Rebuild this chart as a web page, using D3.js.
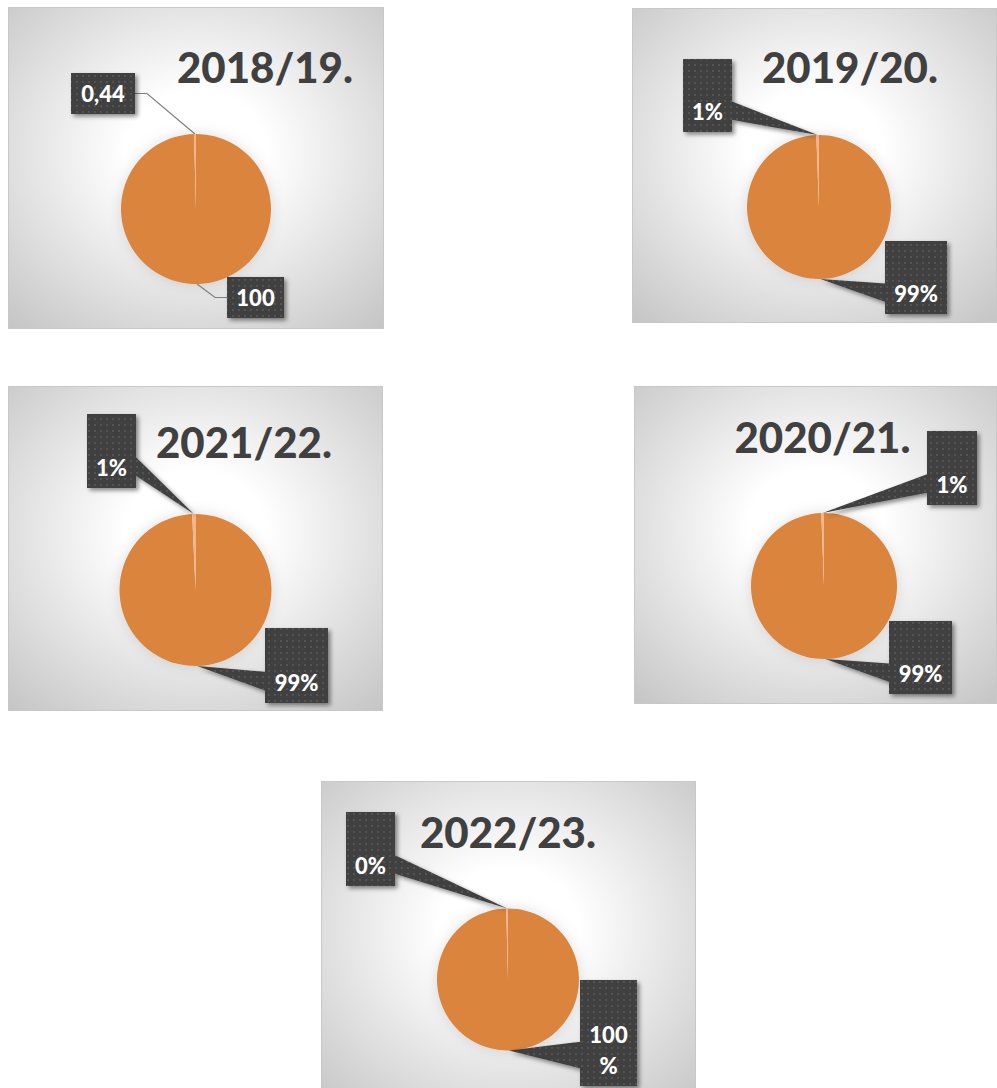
<!DOCTYPE html>
<meta charset="utf-8">
<style>
  body { margin: 0; background: #fff; }
  .title { font-family: Lato, "Open Sans", sans-serif; font-weight: 900; fill: #404040; }
  .lbl { font-family: Lato, "Open Sans", sans-serif; font-weight: 900; fill: #fff; }
</style>
<body>
<script src="https://d3js.org/d3.v7.min.js"></script>
<div id="chart"></div>
<script>
  // data, one entry per season panel
  var seasons = ["2018/19.", "2019/20.", "2021/22.", "2020/21.", "2022/23."];
  var mainValues = [100, 99.4, 99.3, 99.4, 99.6];
  var minorValues = [0.44, 0.6, 0.7, 0.6, 0.4];
  var mainLabels = ["100", "99%", "99%", "99%", "100\n%"];
  var minorLabels = ["0,44", "1%", "1%", "1%", "0%"];

  // panel layout (pixels), boxes relative to panel: [x, y, w, h]
  var panels = [
    { x: 8, y: 7, w: 376, h: 322, cx: 188, cy: 202, r: 75, tx: 257, ty: 76, style: "line",
      minorBox: [63, 66, 64, 41], mainBox: [219, 270, 57, 41] },
    { x: 632, y: 8, w: 365, h: 315, cx: 187, cy: 199, r: 72, tx: 218, ty: 75, style: "wedge",
      minorBox: [51, 51, 49, 73], mainBox: [253, 233, 62, 73] },
    { x: 8, y: 386, w: 375, h: 325, cx: 187.5, cy: 204, r: 76, tx: 236, ty: 72, style: "wedge",
      minorBox: [79, 28, 49, 74], mainBox: [257, 242, 63, 75] },
    { x: 634, y: 386, w: 363, h: 318, cx: 190, cy: 200, r: 73, tx: 188.5, ty: 67, style: "wedge",
      minorBox: [293, 45, 50, 74], mainBox: [255, 235, 63, 73] },
    { x: 321, y: 781, w: 375, h: 330, cx: 187, cy: 198.5, r: 71, tx: 187, ty: 67, style: "wedge",
      minorBox: [25, 31, 49, 74], mainBox: [259, 199, 57, 106] }
  ];

  var color = d3.scaleOrdinal().domain(["main", "minor"]).range(["#db843d", "#f3b68c"]);

  var svg = d3.select("#chart").append("svg")
    .attr("width", 997)
    .attr("height", 1088);

  var defs = svg.append("defs");

  var grad = defs.append("radialGradient").attr("id", "bg")
    .attr("cx", "50%").attr("cy", "45%").attr("r", "75%");
  grad.append("stop").attr("offset", "0%").attr("stop-color", "#ffffff");
  grad.append("stop").attr("offset", "25%").attr("stop-color", "#ffffff");
  grad.append("stop").attr("offset", "100%").attr("stop-color", "#c4c4c4");

  var pat = defs.append("pattern").attr("id", "dots")
    .attr("patternUnits", "userSpaceOnUse").attr("width", 6).attr("height", 6);
  pat.append("rect").attr("width", 6).attr("height", 6).attr("fill", "#404040");
  pat.append("circle").attr("cx", 3).attr("cy", 3).attr("r", 0.9).attr("fill", "#5c5c5c");

  defs.append("filter").attr("id", "boxShadow")
    .attr("x", "-30%").attr("y", "-30%").attr("width", "160%").attr("height", "160%")
    .append("feDropShadow").attr("dx", 2.5).attr("dy", 2.5).attr("stdDeviation", 2)
    .attr("flood-color", "#000").attr("flood-opacity", 0.45);

  defs.append("filter").attr("id", "pieGlow")
    .attr("x", "-30%").attr("y", "-30%").attr("width", "160%").attr("height", "160%")
    .append("feDropShadow").attr("dx", 0).attr("dy", 0).attr("stdDeviation", 7)
    .attr("flood-color", "#000").attr("flood-opacity", 0.13);

  var pie = d3.pie().sort(null).value(function (d) { return d.value; });

  // wedge callout tail, same rule as the office "wedgeRectCallout" shape
  function tailPoints(b, tip) {
    var x = b[0], y = b[1], w = b[2], h = b[3];
    var dxPos = (tip[0] - (x + w / 2)) / w;
    var dyPos = (tip[1] - (y + h / 2)) / h;
    if (Math.abs(dxPos * h) > Math.abs(dyPos * w)) {
      var ex = dxPos > 0 ? x + w : x;
      var y1 = y + h * (dyPos > 0 ? 7 : 2) / 12, y2 = y + h * (dyPos > 0 ? 10 : 5) / 12;
      return [[ex, y1], tip, [ex, y2]];
    } else {
      var ey = dyPos > 0 ? y + h : y;
      var x1 = x + w * (dxPos > 0 ? 7 : 2) / 12, x2 = x + w * (dxPos > 0 ? 10 : 5) / 12;
      return [[x1, ey], tip, [x2, ey]];
    }
  }

  panels.forEach(function (p, i) {
    var g = svg.append("g").attr("transform", "translate(" + p.x + "," + p.y + ")");

    g.append("rect")
      .attr("x", 0.5).attr("y", 0.5)
      .attr("width", p.w - 1).attr("height", p.h - 1)
      .attr("fill", "url(#bg)")
      .attr("stroke", "#c8c8c8");

    var data = [
      { key: "main", value: mainValues[i], label: mainLabels[i], box: p.mainBox },
      { key: "minor", value: minorValues[i], label: minorLabels[i], box: p.minorBox }
    ];
    var arcs = pie(data);
    var arc = d3.arc().innerRadius(0).outerRadius(p.r);

    var pg = g.append("g")
      .attr("transform", "translate(" + p.cx + "," + p.cy + ")")
      .attr("filter", "url(#pieGlow)");
    pg.selectAll("path")
      .data(arcs)
      .enter()
      .append("path")
      .attr("d", arc)
      .attr("fill", function (d) { return color(d.data.key); });

    g.append("text")
      .attr("class", "title")
      .attr("x", p.tx).attr("y", p.ty)
      .attr("text-anchor", "middle")
      .style("font-size", "42px")
      .text(seasons[i]);

    arcs.forEach(function (a) {
      var mid = (a.startAngle + a.endAngle) / 2;
      var tip = [p.cx + p.r * Math.sin(mid), p.cy - p.r * Math.cos(mid)];
      var b = a.data.box;

      if (p.style === "line") {
        var right = tip[0] > b[0] + b[2] / 2;
        var ex = right ? b[0] + b[2] : b[0];
        var my = b[1] + b[3] / 2;
        g.append("polyline")
          .attr("points", [[ex, my], [ex + (right ? 12 : -12), my], tip].join(" "))
          .attr("fill", "none")
          .attr("stroke", "#7f7f7f")
          .attr("stroke-width", 1.2);
        g.append("rect")
          .attr("x", b[0]).attr("y", b[1]).attr("width", b[2]).attr("height", b[3])
          .attr("fill", "url(#dots)")
          .attr("filter", "url(#boxShadow)");
      } else {
        var tail = tailPoints(b, tip);
        var shape = d3.path();
        shape.rect(b[0], b[1], b[2], b[3]);
        shape.moveTo(tail[0][0], tail[0][1]);
        shape.lineTo(tail[1][0], tail[1][1]);
        shape.lineTo(tail[2][0], tail[2][1]);
        shape.closePath();
        g.append("path")
          .attr("d", shape.toString())
          .attr("fill", "url(#dots)")
          .attr("filter", "url(#boxShadow)");
      }

      var lines = a.data.label.split("\n");
      var t = g.append("text")
        .attr("class", "lbl")
        .attr("text-anchor", "middle")
        .style("font-size", "22px");
      lines.forEach(function (line, k) {
        t.append("tspan")
          .attr("x", b[0] + b[2] / 2)
          .attr("y", b[1] + b[3] - 12 - (lines.length - 1 - k) * 31)
          .text(line);
      });
    });
  });
</script>
</body>
